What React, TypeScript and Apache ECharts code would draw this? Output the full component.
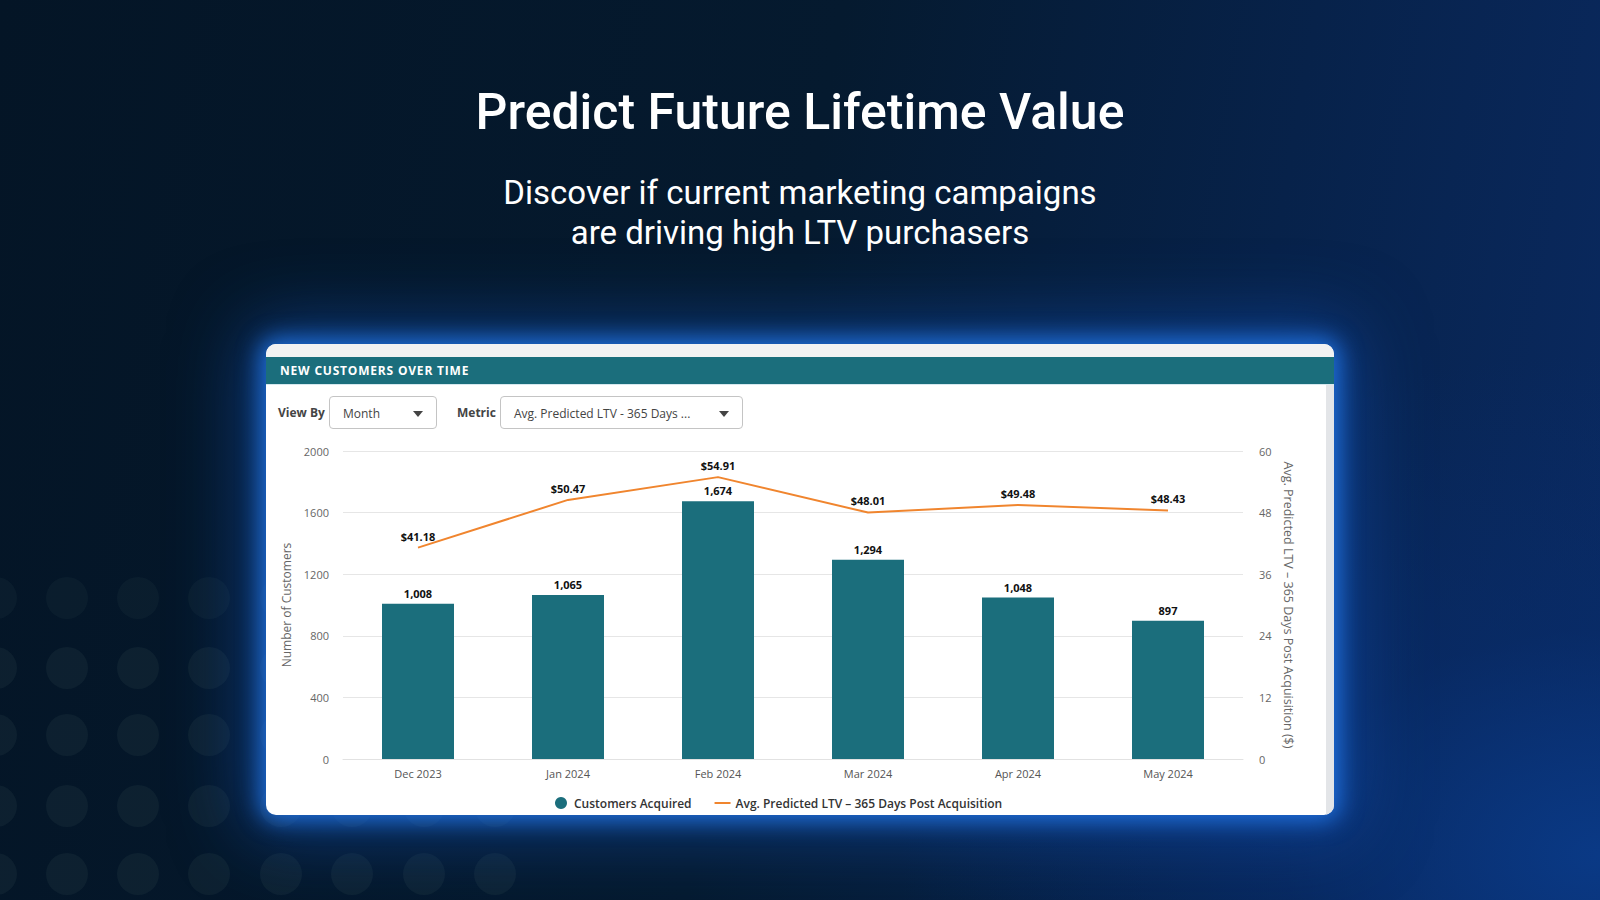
import React, { useEffect, useRef } from "react";
import * as echarts from "echarts";

// ---- data ----
const months = ["Dec 2023", "Jan 2024", "Feb 2024", "Mar 2024", "Apr 2024", "May 2024"];
const customersAcquired = [1008, 1065, 1674, 1294, 1048, 897];
const avgPredictedLtv = [41.18, 50.47, 54.91, 48.01, 49.48, 48.43];
const leftAxisRange = [0, 2000, 400]; // min, max, interval
const rightAxisRange = [0, 60, 12];
const barName = "Customers Acquired";
const lineName = "Avg. Predicted LTV – 365 Days Post Acquisition";
const leftAxisName = "Number of Customers";
const rightAxisName = "Avg. Predicted LTV – 365 Days Post Acquisition ($)";

const TEAL = "#1b6e7c";
const ORANGE = "#f0852e";
const FONT = "'Open Sans', 'DejaVu Sans', sans-serif";

const dotCols = [-4, 67, 138, 209, 281, 352, 424, 495];
const dotRows = [598, 668, 735, 806, 874];

function Chart() {
  const ref = useRef<HTMLDivElement>(null);
  useEffect(() => {
    if (!ref.current) return;
    const chart = echarts.init(ref.current, undefined, { renderer: "svg" });
    chart.setOption({
      animation: false,
      backgroundColor: "transparent",
      textStyle: { fontFamily: FONT },
      grid: { left: 343, right: 357, top: 451, bottom: 141, containLabel: false },
      legend: {
        left: 550,
        top: 792,
        itemWidth: 16,
        itemHeight: 12,
        itemGap: 23,
        textStyle: { color: "#333", fontSize: 12, fontWeight: 600, fontFamily: FONT },
        data: [
          { name: barName, icon: "circle" },
          { name: lineName, icon: "path://M0,0h16v2H0z" },
        ],
      },
      xAxis: {
        type: "category",
        data: months,
        axisLine: { show: true, lineStyle: { color: "#e2e2e2" } },
        axisTick: { show: false },
        axisLabel: { color: "#555", fontSize: 11, margin: 9, fontFamily: FONT },
      },
      yAxis: [
        {
          type: "value",
          min: leftAxisRange[0],
          max: leftAxisRange[1],
          interval: leftAxisRange[2],
          axisLine: { show: false },
          axisTick: { show: false },
          axisLabel: {
            color: "#666",
            fontSize: 11,
            margin: 14,
            fontFamily: FONT,
            formatter: (v: number) => String(v),
          },
          splitLine: { lineStyle: { color: "#e6e6e6", width: 1 } },
          name: leftAxisName,
          nameLocation: "middle",
          nameGap: 48,
          nameTextStyle: { color: "#666", fontSize: 12, fontFamily: FONT },
        },
        {
          type: "value",
          min: rightAxisRange[0],
          max: rightAxisRange[1],
          interval: rightAxisRange[2],
          axisLine: { show: false },
          axisTick: { show: false },
          axisLabel: {
            color: "#666",
            fontSize: 11,
            margin: 16,
            fontFamily: FONT,
            formatter: (v: number) => String(v),
          },
          splitLine: { show: false },
          name: rightAxisName,
          nameLocation: "middle",
          nameRotate: -90,
          nameGap: 37,
          nameTextStyle: { color: "#666", fontSize: 12.5, fontFamily: FONT },
        },
      ],
      series: [
        {
          name: barName,
          type: "bar",
          data: customersAcquired,
          barWidth: 72,
          itemStyle: { color: TEAL },
          label: {
            show: true,
            position: "top",
            distance: 5,
            color: "#111",
            fontSize: 11,
            fontWeight: "bold",
            fontFamily: FONT,
            formatter: (p: any) => Number(p.value).toLocaleString("en-US"),
          },
        },
        {
          name: lineName,
          type: "line",
          yAxisIndex: 1,
          data: avgPredictedLtv,
          symbol: "circle",
          symbolSize: 0.1,
          lineStyle: { color: ORANGE, width: 2 },
          itemStyle: { color: ORANGE },
          label: {
            show: true,
            position: "top",
            distance: 6,
            color: "#111",
            fontSize: 11,
            fontWeight: "bold",
            fontFamily: FONT,
            formatter: (p: any) => "$" + Number(p.value).toFixed(2),
          },
          z: 5,
        },
      ],
    });
    return () => chart.dispose();
  }, []);
  return (
    <div
      ref={ref}
      style={{ position: "absolute", left: 0, top: 0, width: 1600, height: 900 }}
    />
  );
}

function Dropdown({ left, width, text }: { left: number; width: number; text: string }) {
  return (
    <div
      style={{
        position: "absolute",
        left,
        top: 396,
        width,
        height: 33,
        boxSizing: "border-box",
        border: "1px solid #c4c4c4",
        borderRadius: 4,
        background: "#fff",
      }}
    >
      <div
        style={{
          position: "absolute",
          left: 13,
          top: 0,
          lineHeight: "33px",
          fontSize: 12,
          color: "#444",
          fontFamily: FONT,
          whiteSpace: "nowrap",
        }}
      >
        {text}
      </div>
      <div
        style={{
          position: "absolute",
          right: 13,
          top: 14,
          width: 0,
          height: 0,
          borderLeft: "5px solid transparent",
          borderRight: "5px solid transparent",
          borderTop: "6px solid #444",
        }}
      />
    </div>
  );
}

export default function App() {
  return (
    <div
      style={{
        position: "fixed",
        left: 0,
        top: 0,
        width: 1600,
        height: 900,
        overflow: "hidden",
        background:
          "radial-gradient(ellipse 700px 500px at 100% 95%, rgba(10,60,140,0.85) 0%, rgba(8,45,110,0.5) 45%, rgba(6,25,50,0) 100%), linear-gradient(100deg, #041526 0%, #051a2f 48%, #07224a 75%, #0a2a62 100%)",
      }}
    >
      {dotRows.map((y, ri) =>
        dotCols.map((x) => (
          <div
            key={x + "_" + y}
            style={{
              position: "absolute",
              left: x - 21,
              top: y - 21,
              width: 42,
              height: 42,
              borderRadius: 21,
              background: ri === 0 ? "rgba(70,95,95,0.10)" : "rgba(70,95,95,0.15)",
            }}
          />
        ))
      )}
      <div
        style={{
          position: "absolute",
          left: 0,
          width: 1600,
          top: 82,
          textAlign: "center",
          color: "#fff",
          fontFamily: "Roboto, sans-serif",
          fontWeight: 500,
          fontSize: 50,
          lineHeight: "60px",
        }}
      >
        Predict Future Lifetime Value
      </div>
      <div
        style={{
          position: "absolute",
          left: 0,
          width: 1600,
          top: 173,
          textAlign: "center",
          color: "#fff",
          fontFamily: "Roboto, sans-serif",
          fontWeight: 400,
          fontSize: 33,
          lineHeight: "40px",
        }}
      >
        Discover if current marketing campaigns
        <br />
        are driving high LTV purchasers
      </div>
      {/* card */}
      <div
        style={{
          position: "absolute",
          left: 266,
          top: 344,
          width: 1068,
          height: 471,
          borderRadius: 10,
          background: "#fff",
          boxShadow:
            "0 0 22px 6px rgba(35,120,235,0.85), 0 0 70px 22px rgba(20,85,190,0.5)",
          overflow: "hidden",
        }}
      >
        <div style={{ position: "absolute", left: 0, top: 0, width: 1068, height: 13, background: "#f2f2f2" }} />
        <div style={{ position: "absolute", left: 0, top: 13, width: 1068, height: 27, background: TEAL }} />
        <div style={{ position: "absolute", left: 0, top: 40, width: 1068, height: 1, background: "#d6e8ee" }} />
        <div
          style={{
            position: "absolute",
            left: 14,
            top: 13,
            lineHeight: "27px",
            color: "#fff",
            fontFamily: FONT,
            fontWeight: 700,
            fontSize: 12,
            letterSpacing: 0.8,
          }}
        >
          NEW CUSTOMERS OVER TIME
        </div>
        <div style={{ position: "absolute", left: 1060, top: 41, width: 8, height: 430, background: "#e3e5e8" }} />
      </div>
      <div
        style={{
          position: "absolute",
          left: 278,
          top: 396,
          lineHeight: "33px",
          fontSize: 12,
          fontWeight: 700,
          color: "#444",
          fontFamily: FONT,
        }}
      >
        View By
      </div>
      <Dropdown left={329} width={108} text="Month" />
      <div
        style={{
          position: "absolute",
          left: 457,
          top: 396,
          lineHeight: "33px",
          fontSize: 12,
          fontWeight: 700,
          color: "#444",
          fontFamily: FONT,
        }}
      >
        Metric
      </div>
      <Dropdown left={500} width={243} text="Avg. Predicted LTV - 365 Days ..." />
      <Chart />
    </div>
  );
}
